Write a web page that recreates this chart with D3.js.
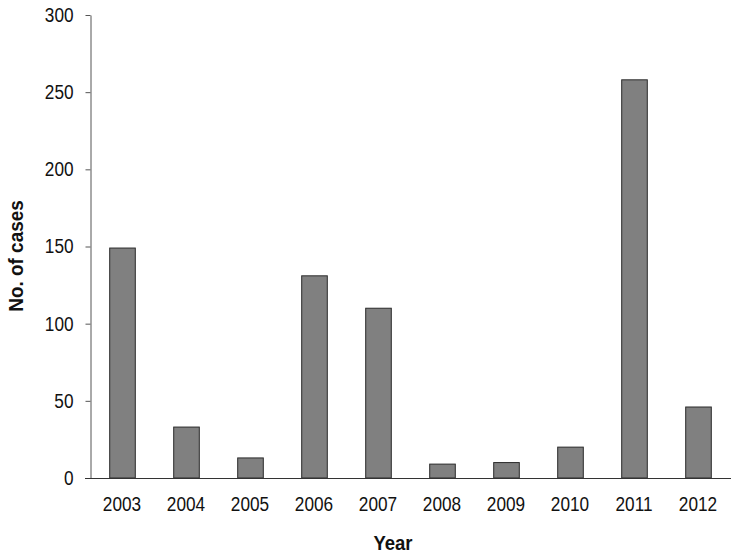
<!DOCTYPE html>
<html><head><meta charset="utf-8">
<script src="https://cdn.jsdelivr.net/npm/d3@7"></script>
<style>
body{margin:0;background:#fff;}
text{font-family:"Liberation Sans",Arial,Helvetica,sans-serif;}
</style></head>
<body>
<svg id="c" width="732" height="554"></svg>
<script>
const years = ["2003","2004","2005","2006","2007","2008","2009","2010","2011","2012"];
const cases = [149, 33, 13, 131, 110, 9, 10, 20, 258, 46];
const yTicks = [0, 50, 100, 150, 200, 250, 300];

const svg = d3.select("#c");
const x = d3.scaleBand().domain(years).range([90, 730]).paddingInner(0.6).paddingOuter(0.3);
const y = d3.scaleLinear().domain([0, 300]).range([478, 15]);

svg.selectAll("rect.bar").data(years).enter().append("rect")
  .attr("class","bar")
  .attr("x", d => x(d) + 0.5)
  .attr("y", (d,i) => y(cases[i]))
  .attr("width", x.bandwidth())
  .attr("height", (d,i) => y(0) - y(cases[i]))
  .attr("fill", "#808080")
  .attr("stroke", "#2a2a2a")
  .attr("stroke-width", 1);

function condense(sel, f) {
  sel.each(function() {
    const w = this.getComputedTextLength();
    d3.select(this).attr("textLength", w * f).attr("lengthAdjust", "spacingAndGlyphs");
  });
}

const yAxis = svg.append("g").attr("transform","translate(90.5,0)")
  .call(d3.axisLeft(y).tickValues(yTicks).tickSize(5).tickSizeOuter(0).tickPadding(12));
yAxis.select(".domain").attr("stroke","#555");
yAxis.selectAll(".tick line").attr("stroke","#555");
yAxis.selectAll("text").attr("font-size", 20).attr("fill","#111")
  .style("font-family",'"Liberation Sans",Arial,sans-serif');
condense(yAxis.selectAll("text"), 0.86);

const xAxis = svg.append("g").attr("transform","translate(0,478.5)")
  .call(d3.axisBottom(x).tickSize(0).tickPadding(18));
xAxis.select(".domain").attr("d","M85,0H731").attr("stroke","#333");
xAxis.selectAll("text").attr("font-size", 20).attr("fill","#111")
  .style("font-family",'"Liberation Sans",Arial,sans-serif');
condense(xAxis.selectAll("text"), 0.86);

svg.append("text").attr("x", 393).attr("y", 550).attr("text-anchor","middle")
  .attr("font-size", 19.5).attr("font-weight","bold").attr("fill","#111").text("Year")
  .call(s => condense(s, 0.95));
svg.append("text").attr("transform","translate(22.5,256) rotate(-90)").attr("text-anchor","middle")
  .attr("font-size", 19.5).attr("font-weight","bold").attr("fill","#111").text("No. of cases")
  .call(s => condense(s, 0.97));
</script>
</body></html>
